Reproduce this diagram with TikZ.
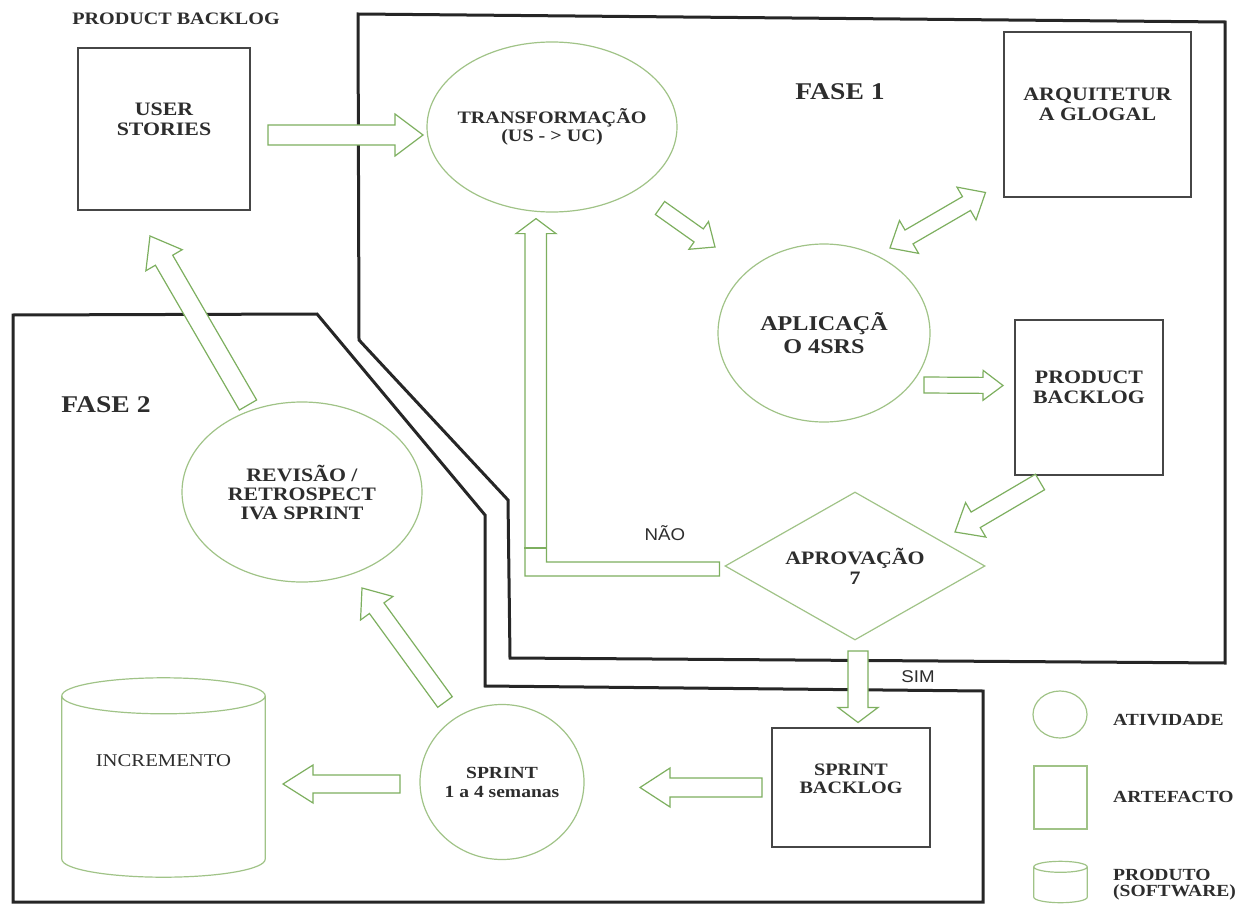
\documentclass[tikz,border=0pt]{standalone}
\usepackage{fontspec}
\setmainfont{Liberation Serif}[FakeStretch=1.15]
\newfontfamily\notesans{Liberation Sans}[FakeStretch=1.1]
\usepackage{xcolor}
\usepackage{tikz}
\usetikzlibrary{shapes.geometric, calc}

\definecolor{actgreen}{RGB}{160,195,135}
\definecolor{arrowgreen}{RGB}{125,175,95}
\definecolor{boxgray}{RGB}{70,70,70}
\definecolor{txtgray}{RGB}{45,45,45}

\tikzset{
  bw/.store in=\blkbw, hw/.store in=\blkhw, hl/.store in=\blkhl,
  bw=10pt, hw=21pt, hl=28pt,
  blk/.style={draw=arrowgreen, fill=white, line width=1.2pt, line join=miter,
    to path={
      ($(\tikztostart)!\blkbw!90:(\tikztotarget)$)
      -- ($($(\tikztotarget)!\blkhl!(\tikztostart)$)!\blkbw!-90:(\tikztostart)$)
      -- ($($(\tikztotarget)!\blkhl!(\tikztostart)$)!\blkhw!-90:(\tikztostart)$)
      -- (\tikztotarget)
      -- ($($(\tikztotarget)!\blkhl!(\tikztostart)$)!\blkhw!90:(\tikztostart)$)
      -- ($($(\tikztotarget)!\blkhl!(\tikztostart)$)!\blkbw!90:(\tikztostart)$)
      -- ($(\tikztostart)!\blkbw!-90:(\tikztotarget)$)
      -- cycle}},
  blk2/.style={draw=arrowgreen, fill=white, line width=1.2pt, line join=miter,
    to path={
      (\tikztostart)
      -- ($($(\tikztostart)!\blkhl!(\tikztotarget)$)!\blkhw!90:(\tikztotarget)$)
      -- ($($(\tikztostart)!\blkhl!(\tikztotarget)$)!\blkbw!90:(\tikztotarget)$)
      -- ($($(\tikztotarget)!\blkhl!(\tikztostart)$)!\blkbw!-90:(\tikztostart)$)
      -- ($($(\tikztotarget)!\blkhl!(\tikztostart)$)!\blkhw!-90:(\tikztostart)$)
      -- (\tikztotarget)
      -- ($($(\tikztotarget)!\blkhl!(\tikztostart)$)!\blkhw!90:(\tikztostart)$)
      -- ($($(\tikztotarget)!\blkhl!(\tikztostart)$)!\blkbw!90:(\tikztostart)$)
      -- ($($(\tikztostart)!\blkhl!(\tikztotarget)$)!\blkbw!-90:(\tikztotarget)$)
      -- ($($(\tikztostart)!\blkhl!(\tikztotarget)$)!\blkhw!-90:(\tikztotarget)$)
      -- cycle}},
}

\newcommand{\drawcyl}[2]{%
  \draw[actgreen, line width=1.2pt] let \p1=($(#1.east)-(#1.west)$) in
    (#1.north) ellipse[x radius=0.5*\x1, y radius=#2]
    (#1.north west) -- (#1.south west)
    arc[start angle=180, end angle=360, x radius=0.5*\x1, y radius=#2]
    -- (#1.north east);}

\begin{document}
\begin{tikzpicture}[x=1pt, y=-1pt,
  every node/.style={text=txtgray},
  artefacto/.style={rectangle, draw=boxgray, line width=1.6pt, fill=white, align=center,
    font=\fontsize{19}{20}\selectfont\bfseries},
  atividade/.style={ellipse, draw=actgreen, line width=1.2pt, fill=white, inner sep=-10pt,
    align=center, font=\fontsize{17.5}{18}\selectfont\bfseries},
  decisao/.style={diamond, draw=actgreen, line width=1.2pt, fill=white, aspect=1.75,
    inner sep=0pt, align=center, font=\fontsize{19}{20}\selectfont\bfseries},
  produto/.style={rectangle, inner sep=0pt, align=center, font=\fontsize{18}{20}\selectfont},
  fase/.style={font=\fontsize{24}{26}\selectfont\bfseries},
  titulo/.style={font=\fontsize{17.5}{20}\selectfont\bfseries},
  nota/.style={font=\notesans\fontsize{17}{20}\selectfont},
  legenda/.style={align=left, inner sep=0pt, font=\fontsize{17}{16}\selectfont\bfseries},
  fronteira/.style={draw=black!85, line width=3pt, line join=miter}]
  \useasboundingbox (0,0) rectangle (1247,904);

  \draw[fronteira] (358,14) -- (1225,22) -- (1225,663) -- (510,658) -- (508,500) -- (359,340) -- cycle;
  \draw[fronteira] (13,315) -- (317,314) -- (485,515) -- (485,686) -- (983,691) -- (983,902) -- (13,902) -- cycle;

  \node[titulo] (pbt) at (176,19) {PRODUCT BACKLOG};
  \node[fase] (f1) at (840,92) {FASE 1};
  \node[fase] (f2) at (106,405) {FASE 2};

  \node[artefacto, minimum width=172pt, minimum height=162pt] (us) at (164,129) {USER\\STORIES\\\mbox{}};
  \node[atividade, minimum width=250pt, minimum height=170pt] (trans) at (552,127) {TRANSFORMAÇÃO\\(US - > UC)};
  \node[artefacto, minimum width=187pt, minimum height=165pt] (arq) at (1097.5,114.5) {ARQUITETUR\\A GLOGAL\\\mbox{}};
  \node[atividade, minimum width=212pt, minimum height=178pt, font=\fontsize{21}{23}\selectfont\bfseries] (aplic) at (824,333) {APLICAÇÃ\\O 4SRS};
  \node[artefacto, minimum width=148pt, minimum height=155pt] (pb) at (1089,397.5) {PRODUCT\\BACKLOG\\\mbox{}};
  \node[decisao, minimum width=260pt, minimum height=148pt] (aprov) at (855,566) {APROVAÇÃO\\7};
  \node[artefacto, minimum width=158pt, minimum height=119pt, font=\fontsize{17.5}{18}\selectfont\bfseries] (sb) at (851,787.5) {SPRINT\\BACKLOG\\\mbox{}};
  \node[atividade, minimum width=164pt, minimum height=155pt, font=\fontsize{17}{19}\selectfont\bfseries] (sprint) at (502,782) {SPRINT\\1 a 4 semanas};
  \node[atividade, minimum width=240pt, minimum height=180pt, font=\fontsize{19}{19}\selectfont\bfseries] (revis) at (302,492) {REVISÃO /\\RETROSPECT\\IVA SPRINT};
  \node[produto, minimum width=203pt, minimum height=163pt] (incr) at (163.5,777.5) {INCREMENTO\\[14pt]\mbox{}};
  \drawcyl{incr}{18pt}

  \node[nota] (nao) at (665,533) {NÃO};
  \node[nota] (sim) at (918,677) {SIM};

  \draw[blk] ($(us)+(104,6)$) to ($(trans)+(-129,8)$);
  \draw[blk, bw=8pt, hw=17pt, hl=20pt] ($(trans)+(108,81)$) to ($(aplic)+(-109,-86)$);
  \draw[blk2, bw=8pt, hw=19pt, hl=22pt] ($(aplic)+(66,-85)$) to ($(arq)+(-112,78)$);
  \draw[blk, bw=8pt, hw=15pt, hl=20pt] ($(aplic)+(100,52)$) to ($(pb)+(-86,-12)$);
  \draw[blk, bw=9pt, hw=20pt, hl=24pt] ($(pb)+(-49,84.5)$) to ($(aprov)+(100,-34)$);
  \draw[blk, hw=20pt, hl=15pt] ($(aprov)+(3,85)$) to ($(sb)+(7,-65)$);
  \draw[blk, bw=9.5pt, hw=19.5pt, hl=30pt] ($(sb)+(-89,0)$) to ($(sprint)+(138,5.5)$);
  \draw[blk, bw=9pt, hw=19pt, hl=30pt] ($(sprint)+(-102,2)$) to ($(incr)+(119.5,6.5)$);
  \draw[blk, bw=9pt, hw=20pt, hl=25pt] ($(sprint)+(-57,-80)$) to ($(revis)+(60,96)$);
  \draw[blk] ($(revis)+(-54,-87)$) to ($(us)+(-14,107)$);

  \draw[draw=arrowgreen, fill=white, line width=1.2pt] ($(aprov.west)+(-5,-4)$) -- ++(-173,0)
    |- ($(trans.south)+(0,21)$) -- ++(4,0) -- ++(-20,-15) -- ++(-20,15) -- ++(9,0)
    |- ($(aprov.west)+(-5,10)$) -- cycle;
  \draw[arrowgreen, line width=1.2pt] ($(aprov.west)+(-200,-18)$) -- ++(22,0);

  \node[atividade, minimum width=54pt, minimum height=47pt] (lgact) at (1060,714.5) {};
  \node[legenda, anchor=west] (lgactt) at (1113,720) {ATIVIDADE};
  \node[rectangle, draw=actgreen, line width=1.2pt, minimum width=53pt, minimum height=63pt] (lgart) at (1060.5,797.5) {};
  \node[legenda, anchor=west] (lgartt) at (1113,797) {ARTEFACTO};
  \node[produto, minimum width=53pt, minimum height=30pt] (lgprod) at (1060.5,882) {};
  \drawcyl{lgprod}{5.5pt}
  \node[legenda, anchor=west] (lgprodt) at (1113,885) {PRODUTO\\(SOFTWARE)};
\end{tikzpicture}
\end{document}
